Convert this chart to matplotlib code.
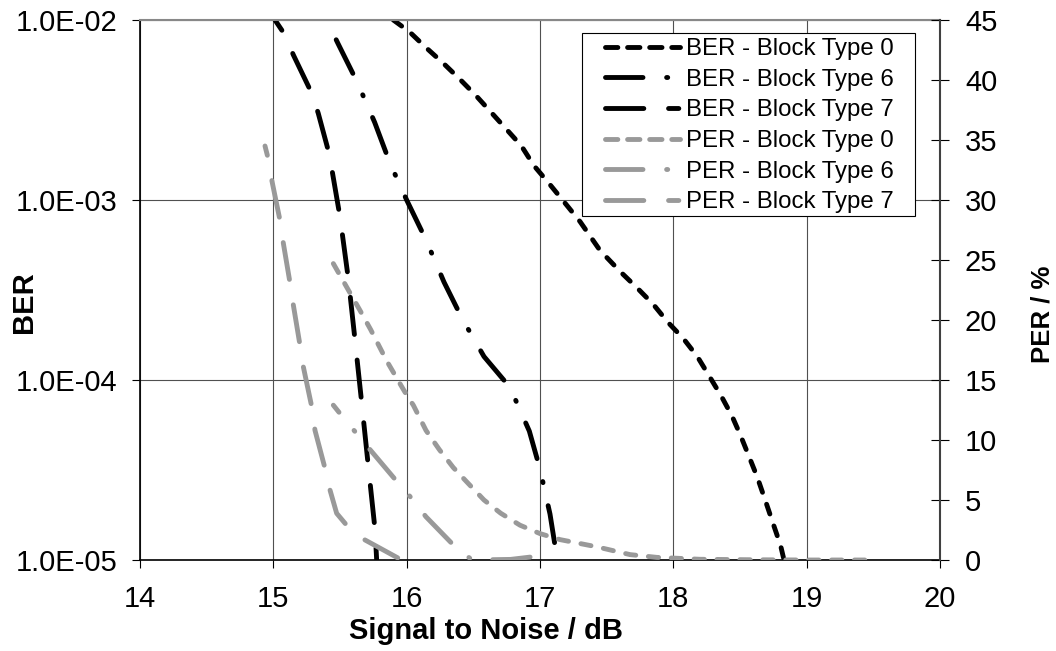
import numpy as np
import matplotlib
matplotlib.use('Agg')
import matplotlib.pyplot as plt
from matplotlib.lines import Line2D
from matplotlib.patches import Rectangle
from matplotlib.ticker import FixedLocator, FixedFormatter, NullLocator

plt.rcParams['font.family'] = ['Liberation Sans', 'DejaVu Sans']
plt.rcParams['lines.scale_dashes'] = False

# ---------------- data ----------------
snr_ticks = [14, 15, 16, 17, 18, 19, 20]
ber_ticks = [1e-5, 1e-4, 1e-3, 1e-2]
ber_tick_labels = ['1.0E-05', '1.0E-04', '1.0E-03', '1.0E-02']
per_ticks = [0, 5, 10, 15, 20, 25, 30, 35, 40, 45]

ber0_snr = [15.90, 16.02, 16.14, 16.275, 16.40, 16.52, 16.63, 16.74, 16.86, 16.955, 17.07,
            17.18, 17.30, 17.45, 17.605, 17.73, 17.85, 17.96, 18.075, 18.18, 18.28, 18.36,
            18.44, 18.505, 18.57, 18.63, 18.69, 18.75, 18.805, 18.83]
ber0_val = [1.0e-2, 8.61e-3, 7.08e-3, 5.75e-3, 4.68e-3, 3.80e-3, 3.09e-3, 2.51e-3, 2.00e-3,
            1.55e-3, 1.23e-3, 9.77e-4, 7.59e-4, 5.25e-4, 3.98e-4, 3.24e-4, 2.63e-4, 2.09e-4,
            1.70e-4, 1.35e-4, 1.02e-4, 8.13e-5, 6.31e-5, 4.90e-5, 3.72e-5, 2.88e-5, 2.14e-5,
            1.58e-5, 1.20e-5, 1.0e-5]

ber6_snr = [15.40, 15.485, 15.63, 15.76, 15.875, 16.00, 16.145, 16.28, 16.415, 16.58,
            16.775, 16.92, 17.00, 17.075, 17.13]
ber6_val = [1.0e-2, 7.4e-3, 4.5e-3, 2.7e-3, 1.6e-3, 1.0e-3, 6.0e-4, 3.5e-4, 2.2e-4, 1.35e-4,
            9.1e-5, 5.2e-5, 3.2e-5, 1.8e-5, 1.0e-5]

ber7_snr = [15.0125, 15.0875, 15.15, 15.288, 15.337, 15.42, 15.50, 15.562, 15.6125, 15.663,
            15.7125, 15.7625, 15.775]
ber7_val = [1.0e-2, 8.26e-3, 6.40e-3, 3.92e-3, 3.03e-3, 1.79e-3, 8.07e-4, 3.67e-4, 1.67e-4,
            7.43e-5, 3.31e-5, 1.48e-5, 1.0e-5]

per0_snr = [15.45, 15.5625, 15.65, 15.73, 15.85, 15.96, 16.00, 16.05, 16.145, 16.245, 16.35,
            16.46, 16.58, 16.705, 16.85, 17.00, 17.15, 17.425, 17.675, 17.875, 18.2, 18.6,
            19.0, 19.45]
per0_val = [24.7, 22.5, 20.8, 19.2, 16.6, 14.5, 13.75, 12.9, 10.8, 9.2, 7.7, 6.4, 5.0, 3.9,
            2.9, 2.2, 1.7, 1.1, 0.45, 0.22, 0.06, 0.02, 0.0, 0.0]

per6_snr = [15.45, 15.515, 15.62, 15.725, 15.93, 16.04, 16.145, 16.355, 16.49, 16.78, 16.97]
per6_val = [12.9, 12.0, 10.6, 9.2, 6.5, 5.1, 3.6, 1.2, 0.0, 0.05, 0.3]

per7_snr = [14.9375, 14.9625, 14.9875, 15.05, 15.075, 15.125, 15.15, 15.20, 15.225, 15.2875,
            15.3125, 15.3875, 15.425, 15.475, 15.555, 15.6875, 15.9625]
per7_val = [34.5, 33.4, 31.7, 28.3, 26.4, 23.1, 21.25, 17.9, 16.1, 12.8, 10.8, 7.64, 5.83,
            3.89, 2.83, 1.67, 0.0]

labels = ['BER - Block Type 0', 'BER - Block Type 6', 'BER - Block Type 7',
          'PER - Block Type 0', 'PER - Block Type 6', 'PER - Block Type 7']

# ---------------- styles ----------------
BLACK = '#000000'
GREY = '#999999'
LW = 3.5
SHORT = (7.4, 9.1)
LONG = (26.9, 18.5)
DASHDOT = (27.0, 17.0, 0.8, 17.0)
SHORT_LEG = (8.9, 7.0)
LONGSHORT_LEG = (27.6, 17.8, 7.4, 17.8)

fig = plt.figure(figsize=(10.56, 6.51), dpi=100)
ax = fig.add_axes([140/1056, 1-560/651, 800/1056, 540/651])
ax2 = ax.twinx()

common = dict(lw=LW, dash_capstyle='round', solid_capstyle='round')
ax.plot(ber0_snr, ber0_val, color=BLACK, ls=(0, SHORT), **common)
ax.plot(ber6_snr, ber6_val, color=BLACK, ls=(46.0, DASHDOT), **common)
ax.plot(ber7_snr, ber7_val, color=BLACK, ls=(18.0, LONG), **common)

ax2.plot(per0_snr, per0_val, color=GREY, ls=(0, SHORT), **common)
ax2.plot(per6_snr, per6_val, color=GREY, ls=(20.5, DASHDOT), **common)
ax2.plot(per7_snr, per7_val, color=GREY, ls=(20.0, LONG), **common)

ax.set_xlim(14, 20)
ax.set_yscale('log')
ax.set_ylim(1e-5, 1e-2)
ax2.set_ylim(0, 45)

ax.xaxis.set_major_locator(FixedLocator(snr_ticks))
ax.yaxis.set_major_locator(FixedLocator(ber_ticks))
ax.yaxis.set_major_formatter(FixedFormatter(ber_tick_labels))
ax.yaxis.set_minor_locator(NullLocator())
ax2.yaxis.set_major_locator(FixedLocator(per_ticks))

ax.grid(True, which='major', color='#505050', lw=0.8)

# spines
for s in ['top', 'right', 'left', 'bottom']:
    ax2.spines[s].set_visible(False)
ax.spines['right'].set_visible(False)
ax.spines['top'].set_color('#888888')
ax.spines['top'].set_linewidth(1.5)
ax.spines['left'].set_color('#000000')
ax.spines['left'].set_linewidth(1.2)
ax.spines['bottom'].set_color('#000000')
ax.spines['bottom'].set_linewidth(1.2)
ax2.spines['right'].set_visible(True)
ax2.spines['right'].set_color('#404040')
ax2.spines['right'].set_linewidth(1.5)

TICK_FS = 21
ax.tick_params(axis='x', direction='out', length=5.8, width=0.8, pad=12.5, labelsize=TICK_FS)
ax.tick_params(axis='y', direction='out', length=5.8, width=0.8, pad=10.5, labelsize=TICK_FS)
ax2.tick_params(axis='y', direction='inout', length=13, width=0.8, pad=11.5, labelsize=TICK_FS)

# axis labels
ax.set_xlabel('Signal to Noise / dB', fontsize=21, fontweight='bold')
ax.xaxis.set_label_coords(0.4325, -(639-560)/540)
ax.xaxis.label.set_va('baseline')

ax.set_ylabel('BER', fontsize=21, fontweight='bold')
ax.yaxis.set_label_coords((32-140)/800, (560-302)/540)
ax.yaxis.label.set_va('baseline')

ax2.set_ylabel('PER / %', fontsize=18.5, fontweight='bold', rotation=90)
ax2.yaxis.set_label_coords((1050-140)/800, (560-314)/540)
ax2.yaxis.label.set_va('baseline')

# legend
handles = [
    Line2D([], [], color=BLACK, ls=(0, SHORT_LEG), **common),
    Line2D([], [], color=BLACK, ls=(0, DASHDOT), **common),
    Line2D([], [], color=BLACK, ls=(0, LONGSHORT_LEG), **common),
    Line2D([], [], color=GREY, ls=(0, SHORT_LEG), **common),
    Line2D([], [], color=GREY, ls=(0, DASHDOT), **common),
    Line2D([], [], color=GREY, ls=(0, LONGSHORT_LEG), **common),
]
frame = Rectangle(((582-140)/800, (560-216)/540), 333/800, 183/540,
                  transform=ax2.transAxes, facecolor='white', edgecolor='#000000',
                  lw=0.8, zorder=8, clip_on=False)
ax2.add_patch(frame)
leg = ax2.legend(handles, labels, loc='upper left',
                 bbox_to_anchor=((605-140)/800, (560-38)/540),
                 frameon=False, fontsize=17.3, handlelength=3.12, handletextpad=0.27,
                 labelspacing=0.36, borderpad=0, borderaxespad=0)
leg.set_zorder(9)

fig.savefig('out.png', dpi=100)
